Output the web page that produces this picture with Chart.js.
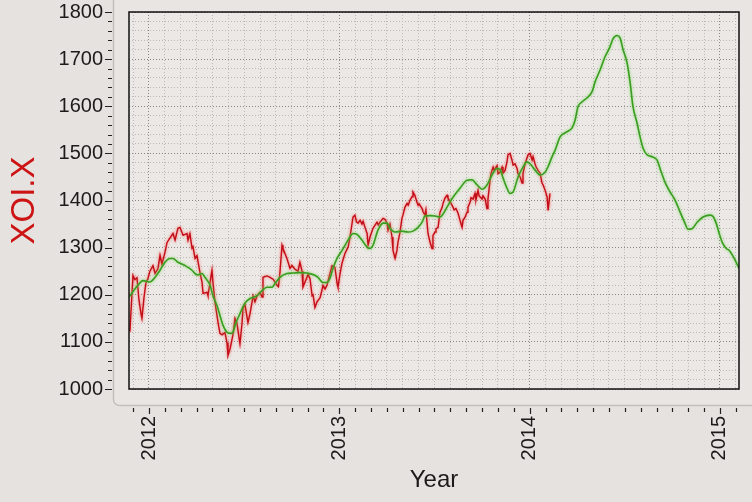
<!DOCTYPE html>
<html>
<head>
<meta charset="utf-8">
<script src="https://cdn.jsdelivr.net/npm/chart.js@4/dist/chart.umd.min.js"></script>
<style>
  html, body { margin: 0; padding: 0; background: #e5e2df; }
  canvas { display: block; }
</style>
</head>
<body>
<canvas id="xoiChart" width="752" height="502"></canvas>
<script>
// XOI.X weekly-ish closes (decimal year, index value)
const redDates = [
  2011.895, 2011.900, 2011.916, 2011.926, 2011.937, 2011.947, 2011.958, 2011.963, 2011.974, 2011.984,
  2011.995, 2012.005, 2012.021, 2012.032, 2012.047, 2012.058, 2012.068, 2012.084, 2012.095, 2012.110,
  2012.126, 2012.137, 2012.152, 2012.163, 2012.179, 2012.200, 2012.205, 2012.215, 2012.226, 2012.231,
  2012.242, 2012.252, 2012.268, 2012.279, 2012.284, 2012.305, 2012.310, 2012.331, 2012.336, 2012.347,
  2012.363, 2012.373, 2012.384, 2012.399, 2012.410, 2012.415, 2012.426, 2012.441, 2012.452, 2012.462,
  2012.478, 2012.489, 2012.494, 2012.504, 2012.520, 2012.531, 2012.547, 2012.557, 2012.568, 2012.583,
  2012.594, 2012.599, 2012.620, 2012.636, 2012.652, 2012.673, 2012.680, 2012.688, 2012.699, 2012.704,
  2012.725, 2012.741, 2012.751, 2012.767, 2012.783, 2012.793, 2012.804, 2012.809, 2012.830, 2012.836,
  2012.846, 2012.857, 2012.862, 2012.872, 2012.883, 2012.899, 2012.909, 2012.914, 2012.925, 2012.935,
  2012.951, 2012.962, 2012.977, 2012.988, 2012.993, 2013.004, 2013.014, 2013.030, 2013.046, 2013.056,
  2013.072, 2013.082, 2013.090, 2013.098, 2013.109, 2013.119, 2013.125, 2013.135, 2013.146, 2013.151,
  2013.161, 2013.177, 2013.198, 2013.205, 2013.214, 2013.230, 2013.240, 2013.251, 2013.256, 2013.266,
  2013.277, 2013.282, 2013.293, 2013.303, 2013.308, 2013.319, 2013.329, 2013.335, 2013.345, 2013.356,
  2013.362, 2013.372, 2013.382, 2013.387, 2013.398, 2013.408, 2013.414, 2013.419, 2013.435, 2013.440,
  2013.450, 2013.455, 2013.466, 2013.477, 2013.487, 2013.492, 2013.503, 2013.508, 2013.519, 2013.529,
  2013.540, 2013.545, 2013.555, 2013.566, 2013.571, 2013.582, 2013.597, 2013.603, 2013.613, 2013.624,
  2013.634, 2013.645, 2013.650, 2013.660, 2013.671, 2013.676, 2013.687, 2013.692, 2013.703, 2013.713,
  2013.718, 2013.729, 2013.734, 2013.750, 2013.755, 2013.766, 2013.776, 2013.781, 2013.792, 2013.797,
  2013.808, 2013.813, 2013.829, 2013.834, 2013.844, 2013.855, 2013.860, 2013.871, 2013.881, 2013.886,
  2013.897, 2013.907, 2013.913, 2013.923, 2013.934, 2013.939, 2013.950, 2013.960, 2013.965, 2013.976,
  2013.986, 2013.992, 2014.002, 2014.013, 2014.018, 2014.028, 2014.034, 2014.044, 2014.055, 2014.065,
  2014.071, 2014.081, 2014.092, 2014.097, 2014.107
];
const redValues = [
  1128, 1125, 1241, 1232, 1236, 1190, 1160, 1150, 1195, 1225,
  1235, 1250, 1262, 1245, 1255, 1284, 1265, 1290, 1311, 1320,
  1330, 1316, 1341, 1343, 1326, 1330, 1316, 1330, 1299, 1302,
  1277, 1283, 1247, 1226, 1203, 1205, 1198, 1252, 1226, 1184,
  1141, 1118, 1115, 1120, 1098, 1071, 1085, 1115, 1150, 1140,
  1096, 1140, 1171, 1180, 1141, 1160, 1198, 1185, 1198, 1205,
  1195, 1237, 1240, 1237, 1233, 1220, 1217, 1247, 1305, 1298,
  1277, 1256, 1262, 1254, 1250, 1269, 1250, 1216, 1237, 1243,
  1234, 1198, 1200, 1173, 1185, 1194, 1210, 1220, 1212, 1220,
  1245, 1262, 1258, 1225, 1216, 1245, 1267, 1288, 1301, 1322,
  1365, 1369, 1355, 1352, 1358, 1350, 1356, 1343, 1330, 1305,
  1322, 1341, 1354, 1348, 1354, 1362, 1360, 1352, 1337, 1350,
  1322, 1294, 1277, 1294, 1311, 1333, 1362, 1370, 1386, 1394,
  1390, 1401, 1408, 1418, 1410, 1396, 1390, 1393, 1383, 1376,
  1369, 1380, 1330, 1311, 1298, 1326, 1333, 1340, 1343, 1375,
  1385, 1394, 1405, 1411, 1405, 1398, 1386, 1380, 1383, 1373,
  1358, 1343, 1358, 1364, 1375, 1386, 1396, 1406, 1403, 1415,
  1401, 1422, 1410, 1403, 1410, 1403, 1383, 1403, 1443, 1457,
  1471, 1464, 1474, 1457, 1460, 1471, 1458, 1464, 1482, 1497,
  1500, 1486, 1475, 1478, 1468, 1457, 1450, 1437, 1457, 1478,
  1490, 1497, 1500, 1486, 1493, 1478, 1471, 1464, 1458, 1437,
  1433, 1422, 1407, 1379, 1415
];

// smoothed / projected curve
const greenDates = [
  2011.895, 2011.942, 2011.968, 2012.005, 2012.032, 2012.058, 2012.084, 2012.110, 2012.126, 2012.152,
  2012.189, 2012.226, 2012.242, 2012.257, 2012.279, 2012.294, 2012.321, 2012.336, 2012.357, 2012.373,
  2012.389, 2012.410, 2012.426, 2012.441, 2012.452, 2012.478, 2012.504, 2012.531, 2012.568, 2012.594,
  2012.620, 2012.646, 2012.662, 2012.688, 2012.725, 2012.757, 2012.793, 2012.830, 2012.862, 2012.888,
  2012.914, 2012.935, 2012.951, 2012.967, 2012.988, 2013.014, 2013.046, 2013.072, 2013.093, 2013.119,
  2013.146, 2013.161, 2013.177, 2013.203, 2013.230, 2013.251, 2013.266, 2013.293, 2013.329, 2013.361,
  2013.387, 2013.414, 2013.435, 2013.450, 2013.477, 2013.503, 2013.529, 2013.566, 2013.597, 2013.634,
  2013.671, 2013.697, 2013.724, 2013.750, 2013.776, 2013.802, 2013.829, 2013.844, 2013.860, 2013.881,
  2013.897, 2013.913, 2013.939, 2013.965, 2013.986, 2014.002, 2014.028, 2014.055, 2014.081, 2014.097,
  2014.118, 2014.134, 2014.160, 2014.197, 2014.223, 2014.239, 2014.254, 2014.275, 2014.302, 2014.328,
  2014.344, 2014.370, 2014.396, 2014.422, 2014.438, 2014.459, 2014.475, 2014.491, 2014.512, 2014.528,
  2014.543, 2014.564, 2014.580, 2014.596, 2014.617, 2014.643, 2014.669, 2014.685, 2014.711, 2014.738,
  2014.764, 2014.790, 2014.816, 2014.832, 2014.853, 2014.880, 2014.911, 2014.948, 2014.964, 2014.980,
  2014.996, 2015.012, 2015.033, 2015.049, 2015.075, 2015.100
];
const greenValues = [
  1195, 1220, 1230, 1227, 1237, 1252, 1269, 1277, 1277, 1269,
  1262, 1252, 1245, 1242, 1245, 1237, 1220, 1198, 1177, 1156,
  1135, 1120, 1118, 1120, 1135, 1160, 1182, 1192, 1198, 1209,
  1216, 1216, 1224, 1237, 1245, 1246, 1247, 1246, 1243, 1237,
  1226, 1226, 1235, 1256, 1277, 1294, 1316, 1330, 1328, 1316,
  1301, 1298, 1305, 1337, 1352, 1352, 1341, 1333, 1335, 1333,
  1335, 1343, 1354, 1367, 1368, 1367, 1365, 1386, 1407, 1426,
  1443, 1444, 1433, 1424, 1433, 1454, 1468, 1466, 1448, 1426,
  1415, 1418, 1450, 1471, 1482, 1478, 1465, 1454, 1460, 1472,
  1493, 1507, 1535, 1546, 1554, 1571, 1599, 1609, 1618, 1631,
  1652, 1677, 1705, 1726, 1743, 1750, 1745, 1720, 1692, 1650,
  1599, 1565, 1535, 1511, 1497, 1493, 1486, 1468, 1439, 1418,
  1401, 1376, 1352, 1339, 1340, 1354, 1365, 1369, 1366, 1352,
  1330, 1311, 1298, 1294, 1277, 1256
];

const yearLabels = [2012, 2013, 2014, 2015];
const xMin = 2011.895, xMax = 2015.1;
const yMin = 1000, yMax = 1800, yStep = 20;

// month ticks across the axis range
const monthTicks = [];
for (let y = 2011; y <= 2015; y++) {
  for (let m = 0; m < 12; m++) {
    const v = y + m / 12;
    if (v >= xMin && v <= xMax) monthTicks.push(v);
  }
}
const valueTicks = [];
for (let v = yMin; v <= yMax; v += yStep) valueTicks.push(v);

const isYear = v => yearLabels.some(y => Math.abs(v - y) < 1e-6);

const decor = {
  id: 'decor',
  beforeDraw(chart) {
    const {ctx, chartArea: a} = chart;
    ctx.save();
    ctx.fillStyle = '#e5e2df';
    ctx.fillRect(0, 0, chart.width, chart.height);
    // the raised panel behind the plot
    ctx.beginPath();
    ctx.roundRect(a.left - 15.5, -10, 700, a.bottom + 26.5, 6);
    ctx.fillStyle = '#e8e5e2';
    ctx.fill();
    ctx.strokeStyle = '#c3c0bc';
    ctx.lineWidth = 1.5;
    ctx.stroke();
    ctx.fillStyle = '#ebe8e5';
    ctx.fillRect(a.left, a.top, a.right - a.left, a.bottom - a.top);
    ctx.restore();
  },
  beforeDatasetDraw(chart, args) {
    const ds = chart.data.datasets[args.index];
    chart.ctx.save();
    chart.ctx.shadowColor = ds.haloColor;
    chart.ctx.shadowBlur = 3;
  },
  afterDatasetDraw(chart) {
    chart.ctx.restore();
  },
  afterDraw(chart) {
    const {ctx, chartArea: a, scales} = chart;
    ctx.save();
    ctx.strokeStyle = '#111';
    ctx.lineWidth = 1.5;
    ctx.strokeRect(a.left, a.top, a.right - a.left, a.bottom - a.top);
    ctx.strokeStyle = '#222';
    ctx.lineWidth = 1.2;
    ctx.beginPath();
    valueTicks.forEach(v => {
      const py = Math.round(scales.y.getPixelForValue(v)) + 0.5;
      const major = v % 100 === 0;
      ctx.moveTo(a.left - (major ? 24 : 21), py);
      ctx.lineTo(a.left - 17, py);
    });
    monthTicks.forEach(v => {
      const px = Math.round(scales.x.getPixelForValue(v)) + 0.5;
      const major = isYear(v);
      ctx.moveTo(px, a.bottom + 19);
      ctx.lineTo(px, a.bottom + (major ? 25 : 23));
    });
    ctx.stroke();
    ctx.restore();
  }
};

const noPad = scale => {
  scale.paddingTop = 0;
  scale.paddingBottom = 0;
  scale.paddingLeft = 0;
  scale.paddingRight = 0;
};

new Chart(document.getElementById('xoiChart').getContext('2d'), {
  type: 'line',
  data: {
    datasets: [{
      label: 'Trend',
      data: greenDates.map((d, i) => ({x: d, y: greenValues[i]})),
      borderColor: '#3a9c20',
      haloColor: 'rgba(120, 220, 90, 0.9)',
      borderWidth: 1.6,
      tension: 0.3,
      cubicInterpolationMode: 'monotone',
      pointRadius: 0,
      fill: false
    }, {
      label: 'XOI.X',
      data: redDates.map((d, i) => ({x: d, y: redValues[i]})),
      borderColor: '#c20d16',
      haloColor: 'rgba(255, 90, 90, 0.9)',
      borderWidth: 1.4,
      tension: 0,
      pointRadius: 0,
      fill: false
    }]
  },
  options: {
    responsive: false,
    animation: false,
    events: [],
    layout: { padding: { top: 12, right: 13, left: 0, bottom: 0 }, autoPadding: false },
    plugins: { legend: { display: false }, tooltip: { enabled: false } },
    scales: {
      x: {
        type: 'linear',
        min: xMin,
        max: xMax,
        afterBuildTicks: scale => {
          scale.ticks = monthTicks.map(v => ({value: v}));
        },
        afterFit: scale => { scale.height = 113; noPad(scale); },
        ticks: {
          autoSkip: false,
          minRotation: 90,
          maxRotation: 90,
          padding: 27,
          color: '#1c1a1a',
          font: { family: 'Liberation Sans', size: 20 },
          callback: v => isYear(v) ? String(Math.round(v)) : ''
        },
        grid: { drawTicks: false, color: c => (c.tick && isYear(c.tick.value)) ? '#8a8784' : '#bbb8b5', lineWidth: 1 },
        border: { display: false, dash: [1, 2] },
        title: {
          display: true,
          text: 'Year',
          color: '#1c1a1a',
          font: { family: 'Liberation Sans', size: 24 },
          padding: { top: 0, bottom: 7 }
        }
      },
      y: {
        min: yMin,
        max: yMax,
        afterBuildTicks: scale => {
          scale.ticks = valueTicks.map(v => ({value: v}));
        },
        afterFit: scale => { scale.width = 129; noPad(scale); },
        ticks: {
          autoSkip: false,
          padding: 26,
          color: '#1c1a1a',
          font: { family: 'Liberation Sans', size: 20 },
          callback: v => v % 100 === 0 ? String(v) : ''
        },
        grid: { drawTicks: false, color: c => (c.tick && c.tick.value % 100 === 0) ? '#8a8784' : '#bbb8b5', lineWidth: 1 },
        border: { display: false, dash: [1, 2] },
        title: {
          display: true,
          text: 'XOI.X',
          color: '#cc1414',
          font: { family: 'Liberation Sans', size: 33 },
          padding: { top: 5, bottom: 0 }
        }
      }
    }
  },
  plugins: [decor]
});
</script>
</body>
</html>
